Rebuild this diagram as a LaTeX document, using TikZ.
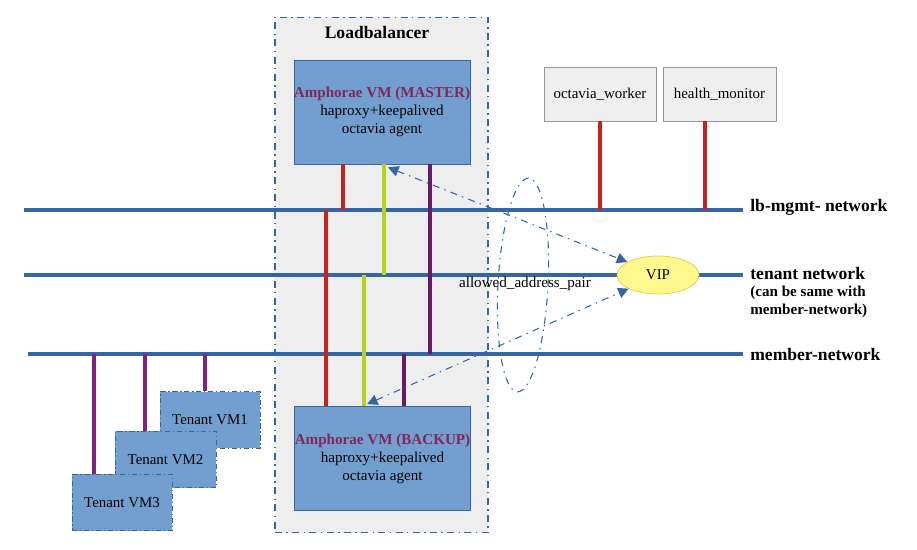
\documentclass[tikz,border=0pt]{standalone}
\usepackage{fontspec}
\setmainfont{Liberation Serif}
\usetikzlibrary{calc,shapes.geometric,arrows.meta}

\definecolor{netblue}{RGB}{52,101,164}
\definecolor{vmblue}{RGB}{114,159,207}
\definecolor{lbgray}{RGB}{238,238,238}
\definecolor{mgmtred}{RGB}{201,33,30}
\definecolor{tenantlime}{RGB}{184,209,26}
\definecolor{memberpurple}{RGB}{102,26,104}
\definecolor{vmpurple}{RGB}{128,34,128}
\definecolor{amphtext}{RGB}{128,40,90}
\definecolor{vipfill}{RGB}{255,248,140}
\definecolor{vipline}{RGB}{232,200,60}
\definecolor{svcborder}{RGB}{150,150,150}

\tikzset{
	net/.style={netblue, line width=2.2pt},
	netlabel/.style={anchor=west, inner sep=0pt, font=\fontsize{10}{11}\selectfont\bfseries},
	lbbox/.style={draw=netblue, fill=lbgray, line width=0.6pt, dash pattern=on 4pt off 2.5pt on 0.8pt off 2.5pt, minimum width=4.26cm, minimum height=10.32cm, inner sep=0pt},
	amphora/.style={draw=netblue, fill=vmblue, minimum width=3.52cm, minimum height=2.08cm, align=center, inner sep=0pt, font=\fontsize{8.6}{10.2}\selectfont},
	tenantvm/.style={draw=netblue, fill=vmblue, dash pattern=on 3pt off 1.5pt on 0.8pt off 1.5pt, minimum width=2cm, minimum height=1.13cm, inner sep=0pt, font=\fontsize{8.5}{10}\selectfont},
	service/.style={draw=svcborder, fill=lbgray, minimum width=2.24cm, minimum height=1.08cm, inner sep=0pt, font=\fontsize{8.5}{10}\selectfont},
	redlink/.style={mgmtred, line width=2pt},
	limelink/.style={tenantlime, line width=2pt},
	purplelink/.style={memberpurple, line width=2pt},
	vmlink/.style={vmpurple, line width=2pt},
	vrrp/.style={netblue, line width=0.6pt, dash pattern=on 4pt off 3pt on 0.8pt off 3pt, {Triangle[length=6pt,width=6pt]}-{Triangle[length=6pt,width=6pt]}},
	pairring/.style={draw=netblue, line width=0.6pt, dash pattern=on 4pt off 3pt on 0.8pt off 3pt, ellipse, minimum width=1cm, minimum height=4.28cm, inner sep=0pt},
}

\begin{document}
\begin{tikzpicture}[x=0.02cm, y=-0.02cm]
	%%%%% START %%%%%
	\useasboundingbox (0,0) rectangle (917,550);

	% loadbalancer with its two amphorae
	\node[lbbox] (lb) at (381.5,275) {};
	\node[font=\fontsize{10}{11}\selectfont\bfseries] (lbtitle) at (377,32) {Loadbalancer};

	\node[amphora] (master) at (382,112) {{\bfseries\color{amphtext}Amphorae VM (MASTER)}\\haproxy+keepalived\\octavia agent};
	\node[amphora] (backup) at (382.5,458.5) {{\bfseries\color{amphtext}Amphorae VM (BACKUP)}\\haproxy+keepalived\\octavia agent};

	% controller services
	\node[service] (worker) at (600,94) {octavia\_worker};
	\node[service, minimum width=2.26cm] (hmon) at (719.5,94) {health\_monitor};

	% networks
	\coordinate (mgmtW) at (24,210);
	\coordinate (mgmtE) at (743,210);
	\coordinate (tenantW) at (24,275);
	\coordinate (tenantE) at (743,275);
	\coordinate (memberW) at (28,354);
	\coordinate (memberE) at (743,354);

	\draw[net] (mgmtW) -- (mgmtE);
	\draw[net] (tenantW) -- (tenantE);
	\draw[net] (memberW) -- (memberE);

	\node[netlabel] (mgmtlabel) at (750,207) {lb-mgmt- network};
	\node[netlabel] (tenantlabel) at (750,273) {tenant network};
	\node[netlabel, anchor=north west, align=left, font=\fontsize{8.6}{10}\selectfont\bfseries] (tenantnote) at (750,286) {(can be same with\\member-network)};
	\node[netlabel] (memberlabel) at (750,354) {member-network};

	% tenant vms
	\node[tenantvm] (vm1) at (210,420) {Tenant VM1};
	\node[tenantvm, minimum width=2.02cm] (vm2) at (165.5,459.5) {Tenant VM2};
	\node[tenantvm] (vm3) at (122,502.5) {Tenant VM3};

	% links of the master
	\coordinate (mRed) at ($(master.south)+(-39,0)$);
	\coordinate (mLime) at ($(master.south)+(2,0)$);
	\coordinate (mPurple) at ($(master.south)+(48,0)$);
	\draw[redlink] (mRed) -- (mRed |- mgmtW);
	\draw[limelink] (mLime) -- (mLime |- tenantW);
	\draw[purplelink] (mPurple) -- (mPurple |- memberW);

	% links of the backup
	\coordinate (bRed) at ($(backup.north)+(-56.5,0)$);
	\coordinate (bLime) at ($(backup.north)+(-18.5,0)$);
	\coordinate (bPurple) at ($(backup.north)+(21.5,0)$);
	\draw[redlink] (bRed |- mgmtW) -- (bRed);
	\draw[limelink] (bLime |- tenantW) -- (bLime);
	\draw[purplelink] (bPurple |- memberW) -- (bPurple);

	% links of the services
	\coordinate (wRed) at (worker.south);
	\coordinate (hRed) at ($(hmon.south)+(-14.5,0)$);
	\draw[redlink] (wRed) -- (wRed |- mgmtW);
	\draw[redlink] (hRed) -- (hRed |- mgmtW);

	% links of the tenant vms
	\coordinate (v1) at ($(vm1.north)+(-5,0)$);
	\coordinate (v2) at ($(vm2.north)+(-20.5,0)$);
	\coordinate (v3) at ($(vm3.north)+(-28,0)$);
	\draw[vmlink] (v1 |- memberW) -- (v1);
	\draw[vmlink] (v2 |- memberW) -- (v2);
	\draw[vmlink] (v3 |- memberW) -- (v3);

	% vip and allowed address pair
	\node[pairring, rotate=-3] (ring) at (523,285) {};
	\node[font=\fontsize{8.6}{10}\selectfont] (pairlabel) at (525,284) {allowed\_address\_pair};
	\node[ellipse, draw=vipline, fill=vipfill, minimum width=1.64cm, minimum height=0.76cm, inner sep=0pt, font=\fontsize{8.5}{10}\selectfont] (vip) at (658,275) {VIP};

	\coordinate (mArrow) at ($(master.south)+(6,3)$);
	\coordinate (bArrow) at ($(backup.north)+(-15.5,-2)$);
	\draw[vrrp] (mArrow) -- (vip.157);
	\draw[vrrp] (bArrow) -- (vip.205);

	%%%%% END %%%%%
\end{tikzpicture}
\end{document}
